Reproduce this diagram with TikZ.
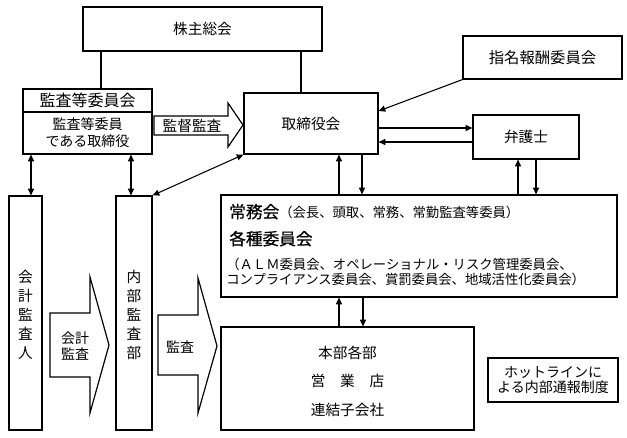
\documentclass[tikz,border=0pt]{standalone}
\usepackage{fontspec}
\setmainfont{Noto Sans CJK JP}
\newfontfamily\medfont[FakeBold=0.6]{Noto Sans CJK JP}
\usetikzlibrary{fit,arrows.meta}
\begin{document}
\begin{tikzpicture}[x=0.75pt,y=-0.75pt,
  box/.style={draw,line width=0.9pt,inner sep=0pt,fit={#1}},
  conn/.style={line width=0.8pt},
  arr/.style={conn,-{Triangle[length=5pt,width=4.5pt]}},
  darr/.style={conn,{Triangle[length=5pt,width=4.5pt]}-{Triangle[length=5pt,width=4.5pt]}},
  blk/.style={draw,line width=0.9pt,fill=white,line join=miter},
  txt/.style={inner sep=0pt,font=\fontsize{11}{13}\selectfont},
  sm/.style={inner sep=0pt,font=\fontsize{10}{12}\selectfont}]
\useasboundingbox (0,0) rectangle (627,438);
% boxes
\node[box={(83,7) (322,51)}] (gm) {};
\node[txt] at (gm.center) {株主総会};
\node[box={(23,89) (152,154)}] (kansa) {};
\draw[line width=0.9pt] (kansa.west |- 0,112) -- (kansa.east |- 0,112);
\node[txt,font=\fontsize{12}{14}\selectfont] (kansaT) at (87.5,100.5) {監査等委員会};
\node[sm,align=center,font=\fontsize{10.5}{12.8}\selectfont] (kansaB) at (87.5,133) {監査等委員\\である取締役};
\node[box={(244,93) (378,154)}] (board) {};
\node[txt] at (board.center) {取締役会};
\node[box={(463,36) (622,79)}] (nom) {};
\node[txt,font=\fontsize{11.5}{13}\selectfont] at (nom.center) {指名報酬委員会};
\node[box={(473,115) (579,159)}] (bengo) {};
\node[txt] at (bengo.center) {弁護士};
\node[box={(221,195) (617,297)}] (jomu) {};
\node[inner sep=0pt,anchor=base west] at (229,218) {\fontsize{12.5}{13}\medfont 常務会\fontsize{10}{12}\normalfont （会長、頭取、常務、常勤監査等委員）};
\node[inner sep=0pt,anchor=base west] at (229,245) {\fontsize{12.5}{13}\medfont 各種委員会};
\node[sm,anchor=base west] at (226,269) {（ＡＬＭ委員会、オペレーショナル・リスク管理委員会、};
\node[sm,anchor=base west] at (226,284) {コンプライアンス委員会、賞罰委員会、地域活性化委員会）};
\node[box={(221,327) (474,430)}] (honbu) {};
\node[txt,align=center,font=\fontsize{11}{21.4}\selectfont] at (347.5,381) {本部各部\\営　業　店\\連結子会社};
\node[box={(488,358) (618,402)}] (hot) {};
\node[txt,align=center,font=\fontsize{10.5}{11.3}\selectfont] at (hot.center) {ホットラインに\\よる内部通報制度};
\node[box={(9,196) (42,430)}] (kaikei) {};
\node[txt,align=center,font=\fontsize{11}{14.3}\selectfont] at (25.5,315) {会\\計\\監\\査\\人};
\node[box={(116,196) (152,430)}] (naibu) {};
\node[txt,align=center,font=\fontsize{11}{14.3}\selectfont] at (134,315) {内\\部\\監\\査\\部};
% block arrows
\draw[blk] (154,116) -- (228,116) -- (228,103) -- (243,125) -- (228,147) -- (228,135) -- (154,135) -- cycle;
\node[txt] (kantoku) at (192,125.5) {監督監査};
\draw[blk] (50,313) -- (90,313) -- (90,277) -- (109,345) -- (90,413) -- (90,377) -- (50,377) -- cycle;
\node[txt,align=center,font=\fontsize{10.5}{11.5}\selectfont] (kaikeiA) at (75,346) {会計\\監査};
\draw[blk] (158,315) -- (198,315) -- (198,278) -- (217,346) -- (198,413) -- (198,375) -- (158,375) -- cycle;
\node[txt,font=\fontsize{10.5}{12}\selectfont] (kansaA) at (180,347) {監査};
% connectors
\draw[conn] (kansa.north -| 101,0) -- (gm.south -| 101,0);
\draw[conn] (board.north -| 301,0) -- (gm.south -| 301,0);
\draw[arr] (nom.south west) -- (board.east |- 0,111);
\draw[arr] (board.east |- 0,128) -- (bengo.west |- 0,128);
\draw[arr] (bengo.west |- 0,142) -- (board.east |- 0,142);
\draw[arr] (jomu.north -| 339,0) -- (board.south -| 339,0);
\draw[arr] (board.south -| 362,0) -- (jomu.north -| 362,0);
\draw[arr] (jomu.north -| 518,0) -- (bengo.south -| 518,0);
\draw[arr] (bengo.south -| 536,0) -- (jomu.north -| 536,0);
\draw[arr] (honbu.north -| 339,0) -- (jomu.south -| 339,0);
\draw[arr] (jomu.south -| 363,0) -- (honbu.north -| 363,0);
\draw[darr] (kansa.south -| 31,0) -- (kaikei.north -| 31,0);
\draw[darr] (kansa.south -| 131,0) -- (naibu.north -| 131,0);
\draw[darr] (naibu.north east) -- (board.south west);
\end{tikzpicture}
\end{document}
